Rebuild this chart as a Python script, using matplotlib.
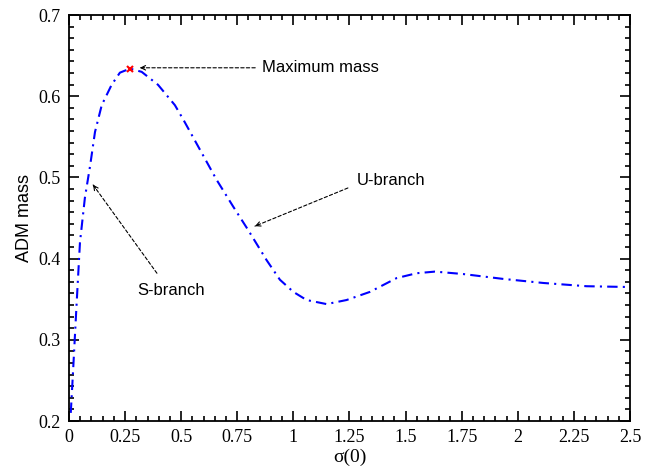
import matplotlib
matplotlib.use("Agg")
import matplotlib.pyplot as plt
from matplotlib.ticker import MultipleLocator, AutoMinorLocator

# sigma(0) vs ADM mass
sigma0 = [0.008, 0.015, 0.022, 0.033, 0.049, 0.071, 0.094, 0.116, 0.146, 0.19, 0.227,
          0.272, 0.324, 0.397, 0.472, 0.51, 0.584, 0.658, 0.732, 0.799, 0.881, 0.94,
          1.0, 1.059, 1.148, 1.237, 1.341, 1.46, 1.549, 1.631, 1.757, 1.935, 2.114,
          2.307, 2.5]
adm_mass = [0.21, 0.245, 0.281, 0.339, 0.42, 0.475, 0.514, 0.556, 0.589, 0.614, 0.629,
            0.634, 0.63, 0.614, 0.589, 0.571, 0.534, 0.497, 0.464, 0.435, 0.398, 0.374,
            0.359, 0.349, 0.344, 0.349, 0.359, 0.376, 0.382, 0.384, 0.381, 0.375, 0.37,
            0.366, 0.365]
peak_sigma = 0.272
peak_mass = 0.634

xticks = [0, 0.25, 0.5, 0.75, 1, 1.25, 1.5, 1.75, 2, 2.25, 2.5]
xticklabels = ["0", "0.25", "0.5", "0.75", "1", "1.25", "1.5", "1.75", "2", "2.25", "2.5"]
yticks = [0.2, 0.3, 0.4, 0.5, 0.6, 0.7]
yticklabels = ["0.2", "0.3", "0.4", "0.5", "0.6", "0.7"]

fig = plt.figure(figsize=(6.6, 4.69), dpi=100)
ax = fig.add_axes([0.1045, 0.1023, 0.85, 0.8657])

ax.plot(sigma0, adm_mass, color="blue", lw=1.5, dashes=(5, 2.5, 1, 2.5))
ax.plot(peak_sigma, peak_mass, "x", color="red", ms=5, mew=1.5)

ax.set_xlim(0, 2.5)
ax.set_ylim(0.2, 0.7)
ax.set_xticks(xticks)
ax.set_xticklabels(xticklabels, family="Liberation Serif", fontsize=13)
ax.set_yticks(yticks)
ax.set_yticklabels(yticklabels, family="Liberation Serif", fontsize=13)
ax.xaxis.set_minor_locator(MultipleLocator(0.05))
ax.yaxis.set_minor_locator(AutoMinorLocator(7))
ax.tick_params(which="both", direction="in", top=True, right=True, width=1.2)
ax.tick_params(which="major", length=7, pad=6)
ax.tick_params(which="minor", length=3.5)
for sp in ax.spines.values():
    sp.set_linewidth(1.3)

ax.set_xlabel("σ(0)", family="Liberation Serif", fontsize=14, labelpad=2)
ax.set_ylabel("ADM mass", family="Liberation Sans", fontsize=13, labelpad=4)

# annotations: dashed shaft + small solid head
def note(text, txy, tail, head):
    ax.text(txy[0], txy[1], text, family="Liberation Sans", fontsize=12,
            va="center", ha="left")
    ax.annotate("", xy=head, xytext=tail,
                arrowprops=dict(arrowstyle="-", lw=0.8, ls=(0, (3, 2)), color="black",
                                shrinkA=0, shrinkB=0))
    dx = (tail[0] - head[0]) * 0.04
    dy = (tail[1] - head[1]) * 0.04
    ax.annotate("", xy=head, xytext=(head[0] + dx, head[1] + dy),
                arrowprops=dict(arrowstyle="->", lw=0.8, color="black",
                                shrinkA=0, shrinkB=0, mutation_scale=8))

note("Maximum mass", (0.86, 0.635), (0.83, 0.635), (0.316, 0.635))
note("U-branch", (1.283, 0.496), (1.243, 0.487), (0.829, 0.440))
note("S-branch", (0.303, 0.361), (0.392, 0.382), (0.107, 0.491))

fig.savefig("out.png", dpi=100)
